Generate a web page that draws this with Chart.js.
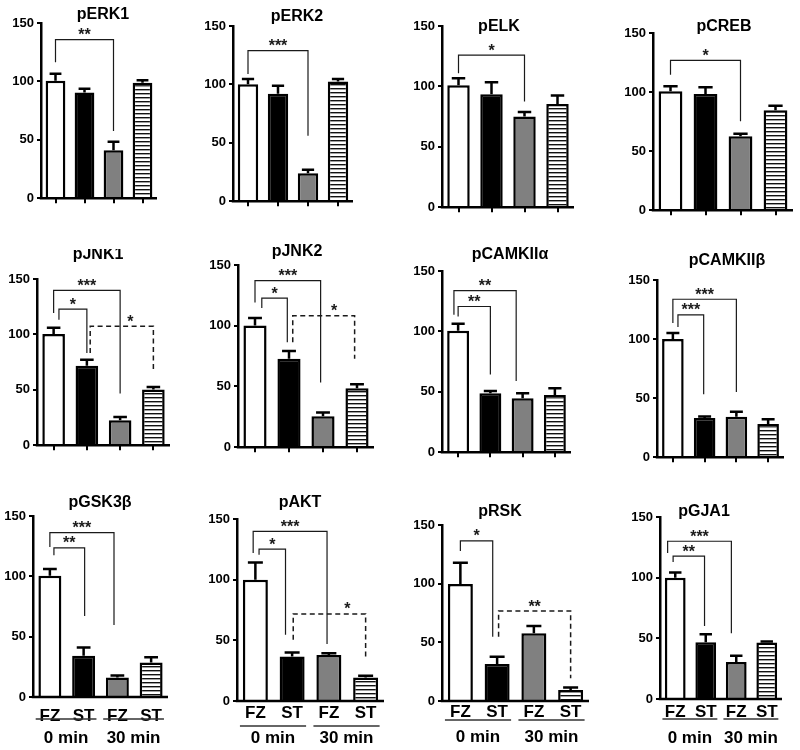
<!DOCTYPE html>
<html>
<head>
<meta charset="utf-8">
<script src="https://cdn.jsdelivr.net/npm/chart.js@4.4.1/dist/chart.umd.min.js"></script>
<style>
  html, body { margin: 0; padding: 0; background: #fff; }
  #wrap { position: relative; width: 800px; height: 750px; overflow: hidden; background: #fff; }
  #wrap canvas { position: absolute; }
</style>
</head>
<body>
<div id="wrap"></div>
<script>
// ---- data ----
const categories = ['FZ', 'ST', 'FZ', 'ST'];
const groups = ['0 min', '30 min'];
const yTicks = [0, 50, 100, 150];
const titles = ['pERK1', 'pERK2', 'pELK', 'pCREB',
                'pJNK1', 'pJNK2', 'pCAMKIIα', 'pCAMKIIβ',
                'pGSK3β', 'pAKT', 'pRSK', 'pGJA1'];
const means = [
  [100.5, 90.5, 41, 98.8],
  [100.2, 91.9, 23.9, 102.5],
  [101, 93.6, 75, 85.4],
  [100.6, 98.4, 62.6, 84.6],
  [100.4, 71.8, 22.5, 50.2],
  [100.1, 72.8, 25.4, 48.5],
  [100.6, 48.8, 44.7, 47.4],
  [100.1, 33.1, 34.2, 28],
  [100.5, 34.1, 16.2, 28.6],
  [99.9, 36.6, 38, 19.3],
  [99.7, 31.5, 57.7, 9.4],
  [99.9, 46.8, 30.4, 46.5]
];
const sems = [
  [6, 3.2, 7.4, 2.2],
  [4.5, 6.9, 3.1, 2.2],
  [5.8, 9.9, 3.8, 7.1],
  [4.3, 5.6, 2.2, 3.9],
  [5.7, 5.4, 3, 2.4],
  [6.3, 6.3, 3.2, 3.3],
  [5.8, 1.9, 4.1, 5.5],
  [5, 1.4, 4.2, 4.2],
  [5.5, 6.9, 1.7, 4.4],
  [14.3, 3.3, 1.4, 1.6],
  [18.2, 6.3, 6.2, 2],
  [4.4, 6.6, 5.2, 0.9]
];
// significance brackets: [from, to, top, footLeft, footRight, text, dashed, textAt]
const brackets = [
  [[0, 2, 135.8, 116.4, 57.5, '**']],
  [[0, 2, 129, 109, 56, '***']],
  [[0, 2, 125.9, 110.9, 87.6, '*']],
  [[0, 2, 126.9, 114.7, 75.3, '*']],
  [[0, 2, 139.8, 119.3, 46.6, '***'], [0.16, 1, 122.9, 113.3, 83.3, '*'], [1.1, 3, 107.3, 83.3, 68.2, '*', true, 2.31]],
  [[0, 1.93, 137.2, 119.2, 53.2, '***'], [0.2, 0.95, 122.7, 114.5, 86.5, '*'], [1.11, 2.93, 108.3, 86.5, 72.8, '*', true, 2.33]],
  [[-0.13, 1.8, 133.8, 113.8, 59, '**'], [0, 1, 120.6, 112.4, 64.4, '**']],
  [[0, 2, 133.7, 113.5, 55.2, '***'], [0.16, 0.97, 120.5, 110.2, 53.3, '***']],
  [[0, 1.9, 136.2, 124.4, 59.7, '***'], [0.12, 1.03, 123.6, 117.5, 67.2, '**']],
  [[-0.06, 1.95, 139.8, 121.9, 47, '***'], [0.1, 0.82, 125.2, 120.6, 54.5, '*'], [1.03, 3, 71.8, 50.4, 35.2, '*', true, 2.5]],
  [[0, 0.88, 136.4, 127.8, 54.8, '*'], [1.04, 3, 76.7, 54.8, 19.3, '**', true]],
  [[-0.25, 1.84, 130, 120.4, 54.2, '***'], [-0.07, 0.96, 117.7, 113, 60.2, '**']]
];

// ---- layout (pixels): axisX, y at 150, y at 0, category step, titleX, titleY, labelPad, groupLine, groupText ----
const layout = [
  [41, 23, 199, 29, 103, 15],
  [233, 26, 202, 30, 297, 17],
  [442, 26, 208, 33, 499, 27],
  [653, 33, 211, 35, 724, 27],
  [37, 279, 446, 33.3, 98, 255],
  [238, 265, 448, 34, 297, 252],
  [442, 271, 453, 32.3, 510, 255],
  [657, 280, 458, 31.8, 727, 261],
  [33, 516, 697, 33.7, 100, 503, 5.5, 22, 41],
  [237, 519, 701, 36.7, 300, 503, -1, 25, 37],
  [442, 525, 701, 36.7, 500, 512, -2, 19, 36.5],
  [660, 517, 699, 30.5, 704, 512, 0, 20, 39]
];

const FONT = "'Liberation Sans', Arial, Helvetica, sans-serif";
const YW = 40, PT = 30, PR = 8;

function stripes() {
  const c = document.createElement('canvas');
  c.width = 8; c.height = 4;
  const g = c.getContext('2d');
  g.fillStyle = '#fff'; g.fillRect(0, 0, 8, 4);
  g.fillStyle = '#111'; g.fillRect(0, 0, 8, 1.4);
  return g.createPattern(c, 'repeat');
}
const fills = ['#ffffff', '#000000', '#808080', stripes()];

// error bars, x axis line, brackets, titles, group labels
function decor(i, offX, offY) {
  const L = layout[i];
  return {
    id: 'decor' + i,
    afterDatasetsDraw(chart) {
      const ctx = chart.ctx, y = chart.scales.y;
      const area = chart.chartArea;
      const bars = chart.getDatasetMeta(0).data;
      ctx.save();
      ctx.strokeStyle = '#000';
      ctx.lineWidth = 2.5;
      bars.forEach((b, j) => {
        const top = y.getPixelForValue(means[i][j]);
        const cap = y.getPixelForValue(means[i][j] + sems[i][j]);
        const hw = b.width * 0.3;
        ctx.beginPath();
        ctx.moveTo(b.x, top); ctx.lineTo(b.x, cap);
        ctx.moveTo(b.x - hw, cap); ctx.lineTo(b.x + hw, cap);
        ctx.stroke();
      });
      // x axis line at value 0
      const y0 = y.getPixelForValue(0);
      ctx.lineWidth = 2.5;
      ctx.beginPath();
      ctx.moveTo(area.left - 1.25, y0);
      ctx.lineTo(area.right, y0);
      ctx.stroke();
      ctx.restore();
    },
    afterDraw(chart) {
      const ctx = chart.ctx, y = chart.scales.y, x = chart.scales.x;
      const p0 = x.getPixelForValue(0), st = x.getPixelForValue(1) - p0;
      const px = v => p0 + v * st;

      brackets[i].forEach(([a, b, top, fl, fr, txt, dashed, at]) => {
        ctx.save();
        ctx.strokeStyle = '#1a1a1a';
        ctx.lineWidth = dashed ? 1.5 : 1.2;
        ctx.setLineDash(dashed ? [5, 3.5] : []);
        ctx.beginPath();
        ctx.moveTo(px(a), y.getPixelForValue(fl));
        ctx.lineTo(px(a), y.getPixelForValue(top));
        ctx.lineTo(px(b), y.getPixelForValue(top));
        ctx.lineTo(px(b), y.getPixelForValue(fr));
        ctx.stroke();
        ctx.fillStyle = '#1a1a1a';
        ctx.font = 'bold 16px ' + FONT;
        ctx.textAlign = 'center';
        ctx.textBaseline = 'alphabetic';
        ctx.fillText(txt, px(at !== undefined ? at : (a + b) / 2), y.getPixelForValue(top) + 0.5);
        ctx.restore();
      });

      ctx.save();
      ctx.fillStyle = '#000';
      ctx.font = 'bold 16px ' + FONT;
      ctx.textAlign = 'center';
      ctx.textBaseline = 'middle';
      ctx.fillText(titles[i], L[4] - offX, L[5] - offY);

      if (i >= 8) {
        const base = chart.chartArea.bottom;
        ctx.font = 'bold 17px ' + FONT;
        ctx.strokeStyle = '#333';
        ctx.lineWidth = 1.5;
        groups.forEach((g, k) => {
          const a = px(2 * k - 0.42), b = px(2 * k + 1 + 0.38);
          ctx.beginPath();
          ctx.moveTo(a, base + L[7]); ctx.lineTo(b, base + L[7]);
          ctx.stroke();
          ctx.fillText(g, (a + b) / 2, base + L[8]);
        });
      }
      ctx.restore();
    }
  };
}

const wrap = document.getElementById('wrap');
const charts = [];

titles.forEach((t, i) => {
  const [ax, y150, y0, step] = layout[i];
  const row3 = i >= 8;
  const XH = row3 ? 56 : 10;
  const left = Math.round(ax - YW), top = y150 - PT;
  const cv = document.createElement('canvas');
  cv.width = Math.round(YW + 4 * step + PR);
  cv.height = PT + (y0 - y150) + XH;
  cv.style.left = left + 'px';
  cv.style.top = top + 'px';
  wrap.appendChild(cv);

  charts.push(new Chart(cv, {
    type: 'bar',
    data: {
      labels: categories,
      datasets: [{
        data: means[i],
        backgroundColor: fills,
        borderColor: '#000',
        borderWidth: 2.5,
        borderSkipped: 'start',
        barPercentage: 0.68,
        categoryPercentage: 1
      }]
    },
    options: {
      responsive: false,
      animation: false,
      layout: { padding: { top: PT, right: PR, left: 0, bottom: 0 } },
      plugins: { legend: { display: false }, tooltip: { enabled: false }, title: { display: false } },
      scales: {
        x: {
          offset: true,
          grid: { display: !row3, drawOnChartArea: false, drawTicks: true, tickLength: 5, offset: false, color: '#000', lineWidth: 2 },
          border: { display: false },
          ticks: {
            display: row3, color: '#000', padding: row3 ? layout[i][6] : 0,
            maxRotation: 0, autoSkip: false,
            font: { family: FONT, size: 17, weight: 'bold', lineHeight: 1 }
          },
          afterFit: s => { s.height = XH; }
        },
        y: {
          min: 0, max: 150,
          afterBuildTicks: s => { s.ticks = yTicks.map(v => ({ value: v })); },
          grid: { drawOnChartArea: false, drawTicks: true, tickLength: 4, color: '#000', lineWidth: 2 },
          border: { display: true, color: '#000', width: 2.5 },
          ticks: { color: '#000', padding: 3, font: { family: FONT, size: 13, weight: 'bold' } },
          afterFit: s => { s.width = YW; }
        }
      }
    },
    plugins: [decor(i, left, top)]
  }));
});
</script>
</body>
</html>
